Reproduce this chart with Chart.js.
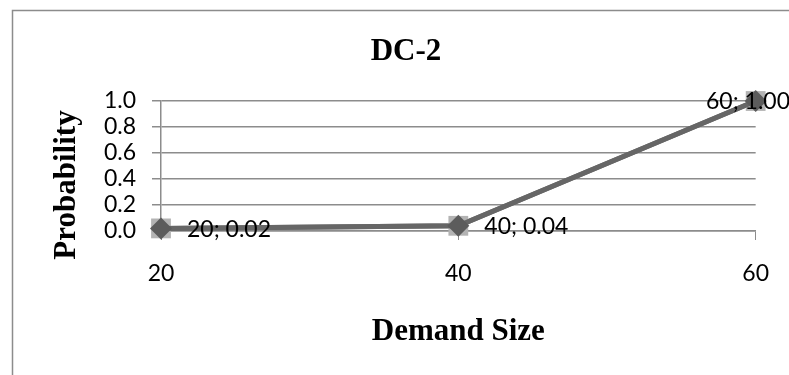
<!DOCTYPE html>
<html>
<head>
<meta charset="utf-8">
<script src="https://cdn.jsdelivr.net/npm/chart.js@4.4.1/dist/chart.umd.min.js"></script>
<style>
  html, body { margin: 0; padding: 0; background: #ffffff; }
  #wrap { width: 789px; height: 375px; position: relative; }
</style>
</head>
<body>
<div id="wrap"><canvas id="chart" width="789" height="375"></canvas></div>
<script>
// Demand size categories and their cumulative probabilities
const demandSizes = ['20', '40', '60'];
const probabilities = [0.02, 0.04, 1.00];
const yTickValues = [0.0, 0.2, 0.4, 0.6, 0.8, 1.0];

const chartTitle = 'DC-2';
const xAxisTitle = 'Demand Size';
const yAxisTitle = 'Probability';

const tickFont = { family: 'Lato, "Open Sans", sans-serif', size: 23 };
const titleFontCss = 'bold 31px "Liberation Serif", "Times New Roman", serif';
const labelFontCss = '23px Lato, "Open Sans", sans-serif';
const gridColor = '#8c8c8c';

// Outer frame, titles and point labels
const decorations = {
  id: 'decorations',
  beforeDraw(chart) {
    const ctx = chart.ctx;
    ctx.save();
    ctx.fillStyle = '#ffffff';
    ctx.fillRect(0, 0, chart.width, chart.height);
    ctx.strokeStyle = '#8c8c8c';
    ctx.lineWidth = 1.5;
    ctx.strokeRect(12.5, 10.5, chart.width + 20, chart.height + 20);
    ctx.restore();
  },
  afterDraw(chart) {
    const ctx = chart.ctx;
    const area = chart.chartArea;
    ctx.save();
    ctx.fillStyle = '#000000';
    ctx.font = titleFontCss;
    ctx.textAlign = 'center';
    ctx.textBaseline = 'alphabetic';
    ctx.fillText(chartTitle, 406, 60);
    ctx.fillText(xAxisTitle, (area.left + area.right) / 2, 340);
    ctx.save();
    ctx.translate(67, 185);
    ctx.rotate(-Math.PI / 2);
    ctx.textBaseline = 'middle';
    ctx.fillText(yAxisTitle, 0, 0);
    ctx.restore();

    // value labels "x; y" to the right of each point, kept inside the canvas
    ctx.font = labelFontCss;
    ctx.textAlign = 'left';
    ctx.textBaseline = 'middle';
    const meta = chart.getDatasetMeta(1);
    meta.data.forEach((pt, i) => {
      const text = demandSizes[i] + '; ' + probabilities[i].toFixed(2);
      const w = ctx.measureText(text).width;
      let x = pt.x + 26;
      if (x + w > chart.width + 1) x = chart.width + 1 - w;
      ctx.fillText(text, x, pt.y + 1);
    });
    ctx.restore();
  }
};

new Chart(document.getElementById('chart'), {
  type: 'line',
  data: {
    labels: demandSizes,
    datasets: [
      {
        data: probabilities,
        borderColor: '#6b6b6b',
        borderWidth: 5,
        pointStyle: 'rect',
        pointRadius: 14,
        pointBackgroundColor: '#b3b3b3',
        pointBorderWidth: 0,
        tension: 0,
        order: 2
      },
      {
        data: probabilities,
        borderColor: '#666666',
        borderWidth: 5,
        pointStyle: 'rectRot',
        pointRadius: 11,
        pointBackgroundColor: '#5c5c5c',
        pointBorderWidth: 0,
        tension: 0,
        order: 1
      }
    ]
  },
  options: {
    responsive: false,
    animation: false,
    clip: false,
    layout: { padding: { top: 101, right: 32, left: 0, bottom: 0 } },
    plugins: {
      legend: { display: false },
      title: { display: false },
      tooltip: { enabled: false }
    },
    scales: {
      x: {
        type: 'category',
        offset: false,
        grid: {
          drawOnChartArea: false,
          drawTicks: true,
          tickLength: 9,
          color: gridColor
        },
        border: { display: true, color: gridColor, width: 1.5 },
        ticks: { color: '#000000', font: tickFont, padding: 20, maxRotation: 0, autoSkip: false },
        afterFit(scale) { scale.height = 144; }
      },
      y: {
        min: 0,
        max: 1,
        afterBuildTicks(scale) {
          scale.ticks = yTickValues.map(v => ({ value: v }));
        },
        grid: {
          color: gridColor,
          lineWidth: 1.5,
          tickLength: 9,
          drawTicks: true
        },
        border: { display: true, color: gridColor, width: 1.5 },
        ticks: {
          color: '#000000',
          font: tickFont,
          padding: 16,
          autoSkip: false,
          callback: v => Number(v).toFixed(1)
        },
        afterFit(scale) { scale.width = 161; }
      }
    }
  },
  plugins: [decorations]
});
</script>
</body>
</html>
